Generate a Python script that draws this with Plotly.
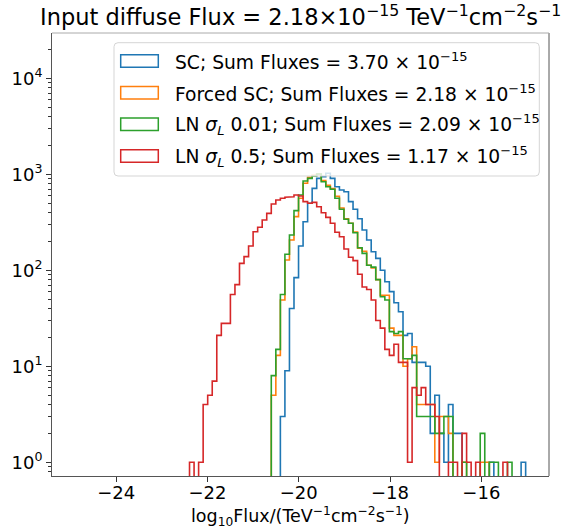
import numpy as np
import plotly.graph_objects as go

# ---------------- data ----------------
n_bins = 100
edge_start = -24.88
bin_width = 0.0995

sc_first_bin = 45
sc_counts = [3, 9, 40, 84, 179, 321, 499, 714, 908, 944, 1024, 908, 743, 686, 659, 519, 432, 345, 263,
             207, 156, 133, 100, 76, 60, 46, 37, 21, 22, 11, 11, 11, 10, 2, 5, 2, 1, 4, 2, 2,
             0, 0, 0, 0, 0, 0, 1, 0, 0, 0, 0, 0, 0, 1]

forced_first_bin = 43
forced_counts = [5, 13, 49, 128, 207, 362, 563, 806, 930, 975, 1006, 860, 770, 710, 590, 445, 345, 309,
                 250, 170, 158, 113, 106, 80, 55, 55, 25, 21, 21, 10, 12, 16, 4, 4, 4, 4, 1, 3, 3, 2,
                 0, 0, 1, 0, 0, 0, 1, 1]

ln001_first_bin = 43
ln001_counts = [8, 15, 56, 147, 233, 418, 609, 851, 908, 960, 1006, 837, 743, 698, 563, 432, 340, 309,
                246, 172, 150, 113, 108, 80, 53, 49, 23, 22, 23, 12, 12, 13, 3, 3, 3, 3, 2, 2, 3, 3,
                0, 0, 1, 0, 0, 0, 2, 0, 1, 1, 0, 0, 1]

ln05_first_bin = 25
ln05_counts = [1, 0, 1, 4, 5, 7, 21, 28, 28, 56, 71, 118, 139, 179, 252, 281, 334, 392, 490, 540, 563,
               576, 584, 609, 595, 519, 499, 510, 460, 398, 356, 309, 249, 224, 167, 137, 126, 91, 67,
               63, 49, 30, 25, 15, 13, 17, 11, 11, 1, 6, 5, 6, 4, 4, 3, 0, 0, 1, 1, 0, 2, 1, 0, 1,
               0, 0, 0, 0, 0, 1]

series_names = ["SC", "Forced SC", "LN σL 0.01", "LN σL 0.5"]
legend_labels = [
    "SC; Sum Fluxes = 3.70 × 10<sup>−15</sup>",
    "Forced SC; Sum Fluxes = 2.18 × 10<sup>−15</sup>",
    "LN <i>σ</i><sub><i>L</i></sub> 0.01; Sum Fluxes = 2.09 × 10<sup>−15</sup>",
    "LN <i>σ</i><sub><i>L</i></sub> 0.5; Sum Fluxes = 1.17 × 10<sup>−15</sup>",
]
colors = ["#1f77b4", "#ff7f0e", "#2ca02c", "#d62728"]

x_tick_vals = [-24, -22, -20, -18, -16]
y_tick_vals = [1, 10, 100, 1000, 10000]
y_tick_text = ["10<sup>0</sup>", "10<sup>1</sup>", "10<sup>2</sup>", "10<sup>3</sup>", "10<sup>4</sup>"]

title_text = "Input diffuse Flux = 2.18×10<sup>−15</sup> TeV<sup>−1</sup>cm<sup>−2</sup>s<sup>−1</sup>"
xlabel_text = "log<sub>10</sub>Flux/(TeV<sup>−1</sup>cm<sup>−2</sup>s<sup>−1</sup>)"

# ---------------- helpers ----------------
edges = edge_start + bin_width * np.arange(n_bins + 1)
FLOOR = 1e-3  # below visible range -> clipped like matplotlib log step


def full_counts(first, vals):
    c = np.zeros(n_bins)
    c[first:first + len(vals)] = vals
    return c


def step_xy(counts):
    c = np.where(counts > 0, counts, FLOOR)
    x = np.repeat(edges, 2)
    y = np.concatenate([[FLOOR], np.repeat(c, 2), [FLOOR]])
    return x, y


all_counts = [
    full_counts(sc_first_bin, sc_counts),
    full_counts(forced_first_bin, forced_counts),
    full_counts(ln001_first_bin, ln001_counts),
    full_counts(ln05_first_bin, ln05_counts),
]

# ---------------- layout geometry (pixels) ----------------
W, H = 577, 529
PL, PR, PT, PB = 52, 549, 33, 476


def pxx(px):
    return (px - PL) / (PR - PL)


def pxy(py):
    return (PB - py) / (PB - PT)


fig = go.Figure()
for name, counts, col in zip(series_names, all_counts, colors):
    x, y = step_xy(counts)
    fig.add_trace(go.Scatter(x=x, y=y, mode="lines", name=name, showlegend=False,
                             line=dict(color=col, width=1.6), hoverinfo="skip"))

minor_vals = [m * 10.0 ** e for e in range(-1, 5) for m in range(2, 10)
              if 0.72 < m * 10.0 ** e < 29000]

font_family = "DejaVu Sans"
tick_size = 18

fig.update_layout(
    width=W, height=H,
    margin=dict(l=PL, r=W - PR, t=PT, b=H - PB, pad=0),
    paper_bgcolor="white", plot_bgcolor="white",
    font=dict(family=font_family, size=tick_size, color="black"),
    showlegend=False,
    xaxis=dict(range=[-25.405, -14.518], tickvals=x_tick_vals, ticks="outside", ticklen=5,
               tickwidth=1, tickcolor="#333", showgrid=False, zeroline=False, showline=True,
               linecolor="#555", linewidth=1, tickfont=dict(size=tick_size), automargin=False,
               ticklabelstandoff=-5),
    yaxis=dict(type="log", range=[-0.1427, 4.472], tickvals=y_tick_vals, ticktext=y_tick_text,
               ticks="outside", ticklen=5, tickwidth=1, tickcolor="#333", showgrid=False,
               zeroline=False, showline=True, linecolor="#555", linewidth=1,
               tickfont=dict(size=tick_size), automargin=False,
               minor=dict(tickvals=minor_vals, ticks="outside", ticklen=3, tickwidth=0.8,
                          tickcolor="#333", showgrid=False)),
)

shapes = []
# right and top spines
shapes.append(dict(type="line", xref="paper", yref="paper", x0=1, x1=1, y0=0, y1=1,
                   line=dict(color="#555", width=1)))
shapes.append(dict(type="line", xref="paper", yref="paper", x0=0, x1=1, y0=1, y1=1,
                   line=dict(color="#aaa", width=1)))

# legend frame (rounded)
lx0, lx1, ly0, ly1 = pxx(114), pxx(539.3), pxy(42.7), pxy(176)
rx, ry = 4 / (PR - PL), 4 / (PB - PT)
path = (f"M {lx0+rx},{ly0} L {lx1-rx},{ly0} Q {lx1},{ly0} {lx1},{ly0-ry} "
        f"L {lx1},{ly1+ry} Q {lx1},{ly1} {lx1-rx},{ly1} L {lx0+rx},{ly1} "
        f"Q {lx0},{ly1} {lx0},{ly1+ry} L {lx0},{ly0-ry} Q {lx0},{ly0} {lx0+rx},{ly0} Z")
shapes.append(dict(type="path", xref="paper", yref="paper", path=path, layer="above",
                   fillcolor="rgba(255,255,255,0.8)", line=dict(color="#d5d5d5", width=1)))

entry_y = [61, 92.7, 124.3, 156]
annotations = []
for lab, col, ey in zip(legend_labels, colors, entry_y):
    shapes.append(dict(type="rect", xref="paper", yref="paper", layer="above",
                       x0=pxx(120.7), x1=pxx(158.3), y0=pxy(ey - 6.2), y1=pxy(ey + 6.2),
                       line=dict(color=col, width=1.5), fillcolor="rgba(0,0,0,0)"))
    annotations.append(dict(text=lab, xref="paper", yref="paper", x=pxx(173), y=pxy(ey),
                            xanchor="left", yanchor="middle", showarrow=False,
                            font=dict(size=18.7, family=font_family, color="black")))

annotations.append(dict(text=title_text, xref="paper", yref="paper", x=0.5, y=pxy(16),
                        xanchor="center", yanchor="middle", showarrow=False,
                        font=dict(size=22.5, family=font_family, color="black")))
annotations.append(dict(text=xlabel_text, xref="paper", yref="paper", x=0.5, y=pxy(516),
                        xanchor="center", yanchor="middle", showarrow=False,
                        font=dict(size=17.5, family=font_family, color="black")))

fig.update_layout(shapes=shapes, annotations=annotations)
fig.write_html("out.html")
